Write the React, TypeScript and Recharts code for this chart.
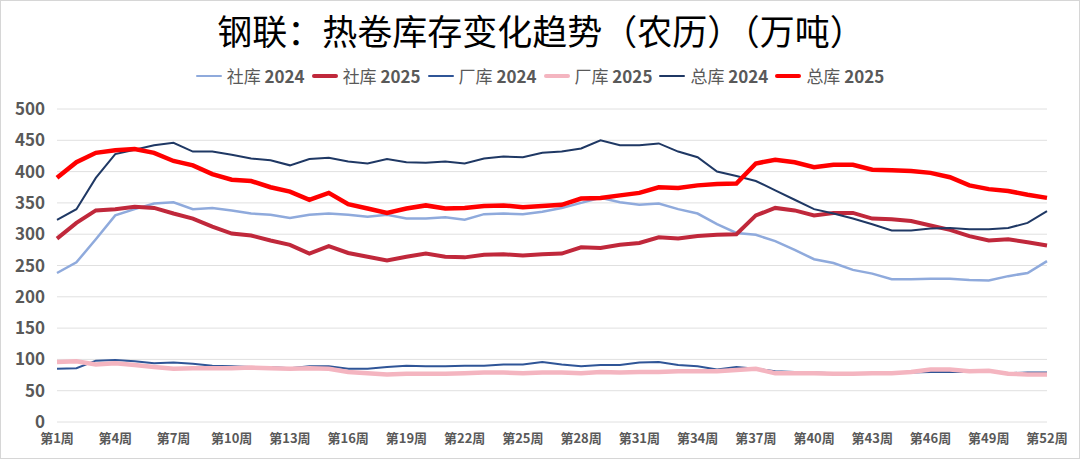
import { LineChart, Line, XAxis, YAxis, CartesianGrid } from "recharts";

const weeks = Array.from({ length: 52 }, (_, i) => `第${i + 1}周`);

const social2024 = [
  238, 255, 292, 330, 340, 349, 351, 340, 342, 338, 333, 331, 326, 331, 333, 331, 328, 331, 325, 325,
  327, 323, 332, 333, 332, 336, 342, 350, 358, 351, 347, 349, 340, 333, 316, 302, 299, 289, 275, 260,
  254, 243, 237, 228, 228, 229, 229, 227, 226, 233, 238, 257,
];
const social2025 = [
  293, 318, 338, 340, 344, 342, 333, 325, 312, 301, 298, 290, 283, 269, 281, 270, 264, 258, 264, 269,
  264, 263, 267, 268, 266, 268, 269, 279, 278, 283, 286, 295, 293, 297, 299, 300, 330, 342, 338, 330,
  334, 334, 325, 324, 321, 314, 307, 297, 290, 292, 287, 282,
];
const factory2024 = [
  85, 86, 98, 99, 97, 94, 95, 93, 90, 89, 88, 88, 86, 89, 89, 85, 85, 88, 90, 89,
  89, 90, 90, 92, 92, 96, 92, 89, 91, 91, 95, 96, 91, 89, 84, 88, 85, 81, 80, 79,
  78, 78, 78, 79, 79, 80, 80, 80, 82, 78, 79, 79,
];
const factory2025 = [
  96, 97, 92, 94, 91, 88, 85, 86, 86, 86, 87, 86, 85, 86, 85, 80, 78, 76, 77, 77,
  77, 78, 79, 79, 78, 79, 79, 78, 80, 79, 80, 80, 81, 81, 81, 83, 85, 78, 78, 78,
  77, 77, 78, 78, 80, 84, 84, 81, 82, 77, 76, 76,
];
const total2024 = [
  323, 340, 390, 428, 435, 442, 446, 432, 432, 427, 421, 418, 410, 420, 422, 416, 413, 420, 415, 414,
  416, 413, 421, 424, 423, 430, 432, 437, 450, 442, 442, 445, 432, 423, 400, 393, 385, 370, 355, 340,
  333, 325, 316, 306, 306, 309, 310, 308, 308, 310, 318, 337,
];
const total2025 = [
  390, 415, 430, 434, 436, 430, 417, 410, 396, 387, 385, 375, 368, 355, 366, 348, 341, 334, 341, 346,
  341, 342, 345, 346, 343, 345, 347, 357, 358, 362, 366, 375, 374, 378, 380, 381, 413, 419, 415, 407,
  411, 411, 403, 402, 401, 398, 391, 378, 372, 369, 363, 358,
];
const yTicks = [0, 50, 100, 150, 200, 250, 300, 350, 400, 450, 500];

const series = [
  { key: "s24", name: "社库", year: "2024", color: "#8faadc", width: 2.5 },
  { key: "s25", name: "社库", year: "2025", color: "#c0283b", width: 4 },
  { key: "f24", name: "厂库", year: "2024", color: "#2f5597", width: 2 },
  { key: "f25", name: "厂库", year: "2025", color: "#f4b5c0", width: 4.5 },
  { key: "t24", name: "总库", year: "2024", color: "#1f3864", width: 2 },
  { key: "t25", name: "总库", year: "2025", color: "#ff0000", width: 4.5 },
];

const data = weeks.map((w, i) => ({
  week: w,
  s24: social2024[i],
  s25: social2025[i],
  f24: factory2024[i],
  f25: factory2025[i],
  t24: total2024[i],
  t25: total2025[i],
}));

const FONT = '"Noto Sans CJK SC", "Noto Sans", sans-serif';

export default function App() {
  return (
    <div
      style={{
        position: "absolute",
        left: 0,
        top: 0,
        width: 1080,
        height: 459,
        boxSizing: "border-box",
        border: "1px solid #d6d6d6",
        background: "#fff",
        fontFamily: FONT,
        overflow: "hidden",
      }}
    >
      <div
        style={{
          position: "absolute",
          top: 4,
          left: 0,
          width: 1080,
          textAlign: "center",
          fontSize: 35,
          color: "#000",
          lineHeight: "50px",
        }}
      >
        钢联：热卷库存变化趋势（农历）（万吨）
      </div>
      <div
        style={{
          position: "absolute",
          top: 62,
          left: 0,
          width: 1078,
          display: "flex",
          justifyContent: "center",
          gap: 7,
          fontSize: 17,
          color: "#595959",
          lineHeight: "26px",
        }}
      >
        {series.map((s) => (
          <div key={s.key} style={{ display: "flex", alignItems: "center", gap: 5 }}>
            <span
              style={{
                display: "inline-block",
                width: 26,
                height: Math.max(2, s.width - 0.5),
                background: s.color,
                borderRadius: 2,
              }}
            />
            <span>
              {s.name} <b>{s.year}</b>
            </span>
          </div>
        ))}
      </div>
      <div style={{ position: "absolute", left: 0, top: 0 }}>
        <LineChart
          width={1078}
          height={459}
          data={data}
          margin={{ top: 108, right: 32, bottom: 8, left: 6 }}
        >
          <CartesianGrid vertical={false} stroke="#e0e0e0" />
          <XAxis
            dataKey="week"
            interval={2}
            height={30}
            axisLine={false}
            tickLine={false}
            tickSize={0}
            tickMargin={12}
            tick={{ fill: "#595959", fontSize: 13, fontWeight: 700, fontFamily: FONT }}
          />
          <YAxis
            width={50}
            domain={[0, 500]}
            ticks={yTicks}
            axisLine={false}
            tickLine={false}
            tickSize={0}
            tickMargin={12}
            tick={{ fill: "#595959", fontSize: 17, fontWeight: 700, fontFamily: FONT }}
          />
          {series.map((s) => (
            <Line
              key={s.key}
              dataKey={s.key}
              name={`${s.name} ${s.year}`}
              stroke={s.color}
              strokeWidth={s.width}
              dot={false}
              activeDot={false}
              type="linear"
              isAnimationActive={false}
            />
          ))}
        </LineChart>
      </div>
    </div>
  );
}
